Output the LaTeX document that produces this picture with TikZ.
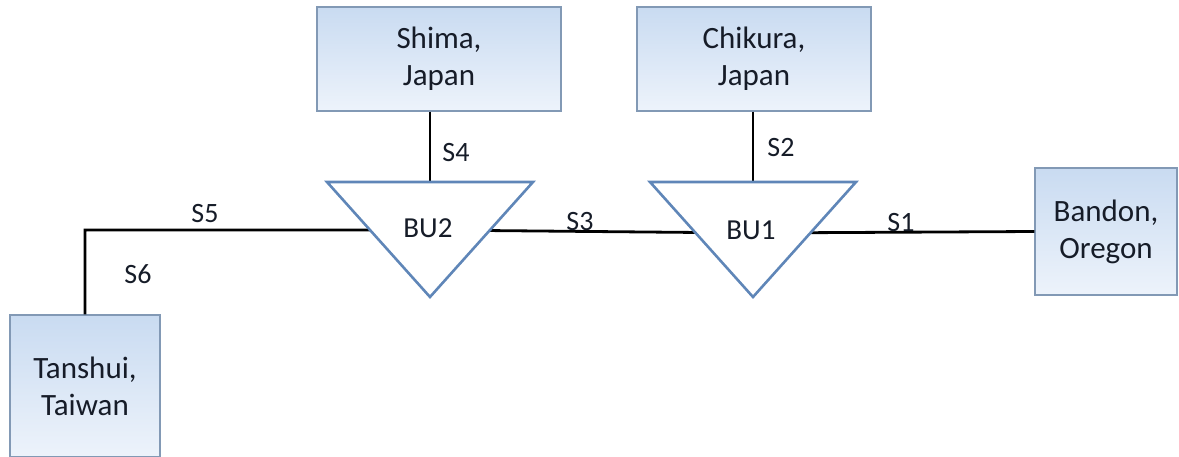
\documentclass[tikz,border=0pt]{standalone}
\usepackage{fontspec}
\setmainfont{Carlito}
\definecolor{boxtop}{HTML}{C9DBF1}
\definecolor{boxbot}{HTML}{EDF3FB}
\definecolor{boxline}{HTML}{8299B5}
\definecolor{triline}{HTML}{5F86B8}
\definecolor{txt}{HTML}{161C28}
\tikzset{
  site/.style={draw=boxline, line width=1.2pt, top color=boxtop, bottom color=boxbot,
    align=center, text=txt, font=\fontsize{31}{37}\selectfont, inner sep=0pt},
  tri/.style={draw=triline, line width=2.6pt, fill=white, line join=miter},
  cable/.style={draw=black, line width=2.8pt},
  seg/.style={text=txt, font=\fontsize{28}{30}\selectfont, inner sep=0pt},
  bu/.style={text=txt, font=\fontsize{29}{32}\selectfont, inner sep=0pt}
}
\begin{document}
\begin{tikzpicture}[x=1pt,y=-1pt]
\useasboundingbox (0,0) rectangle (1179,457);
% sites
\node[site, minimum width=244pt, minimum height=104pt] (shima) at (439,59) {Shima,\\Japan};
\node[site, minimum width=234pt, minimum height=104pt] (chikura) at (754,59) {Chikura,\\Japan};
\node[site, minimum width=142pt, minimum height=127pt] (bandon) at (1106,231.5) {Bandon,\\Oregon};
\node[site, minimum width=150pt, minimum height=142pt] (tanshui) at (85,386) {Tanshui,\\Taiwan};
% branching unit reference points
\coordinate (bu2c) at (430,230);
\coordinate (bu2top) at (430,182);
\coordinate (bu1c) at (753,233);
\coordinate (bu1top) at (753,182);
% cables
\draw[cable] (tanshui.north) |- (bu2c) -- (bu1c) -- (bandon.west);
\draw[cable] (shima.south -| bu2top) -- (bu2top);
\draw[cable] (chikura.south -| bu1top) -- (bu1top);
% branching units
\draw[tri] (327,182) -- (533,182) -- (430,297) -- cycle;
\draw[tri] (650,182) -- (856,182) -- (753,297) -- cycle;
\node[bu] (bu2) at (428,228) {BU2};
\node[bu] (bu1) at (751,230) {BU1};
% segment labels
\node[seg] (s1) at (901,223) {S1};
\node[seg] (s2) at (781,148) {S2};
\node[seg] (s3) at (580,222) {S3};
\node[seg] (s4) at (456,153) {S4};
\node[seg] (s5) at (205,214) {S5};
\node[seg] (s6) at (138,274) {S6};
\end{tikzpicture}
\end{document}
